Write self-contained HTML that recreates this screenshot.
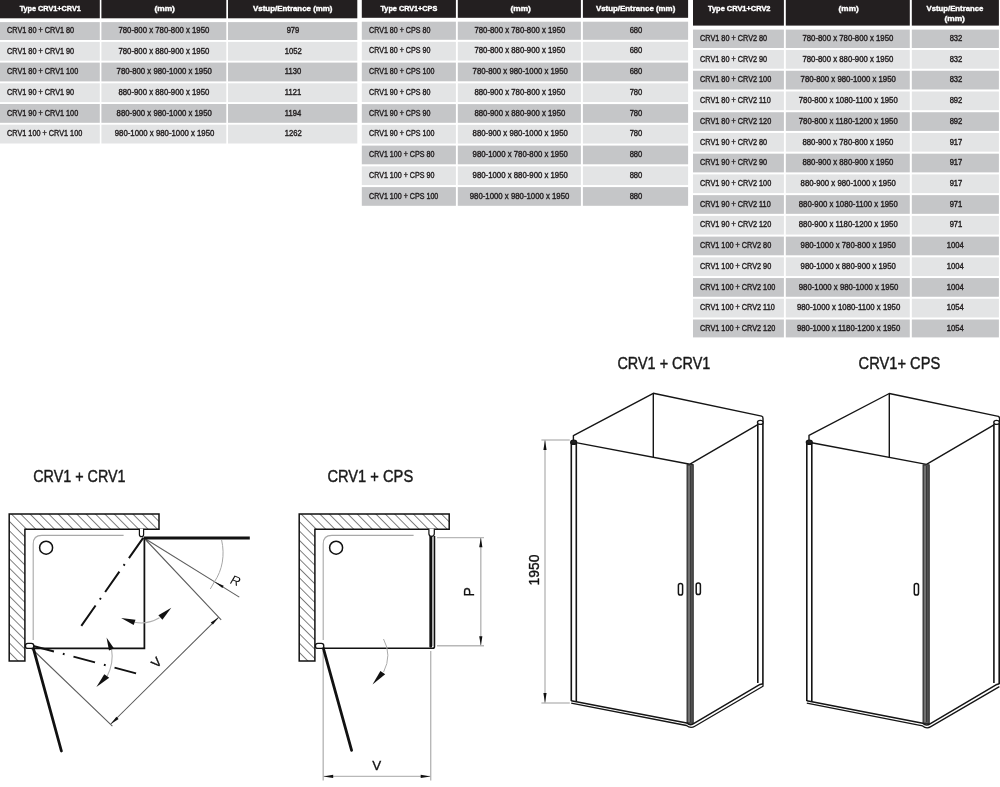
<!DOCTYPE html>
<html lang="en"><head><meta charset="utf-8"><title>CRV1 dimensions</title>
<style>
html,body{margin:0;padding:0;background:#fff}
body{width:1000px;height:787px;position:relative;overflow:hidden;font-family:"Liberation Sans",Arial,sans-serif;color:#231f20}
.c{position:absolute}
.t{position:absolute;white-space:nowrap;font-size:8.4px;line-height:10px;height:10px;display:block}
.t span{display:inline-block;transform-origin:0 50%}
.tc{text-align:center}
.tc span{transform-origin:50% 50%}
.h{color:#fff;font-weight:bold}
svg{position:absolute;left:0;top:0}
#tb{position:absolute;left:0;top:0;width:1000px;height:345px;will-change:transform}
.t{-webkit-text-stroke:0.4px}

</style></head><body><div id="tb">
<svg width="1000" height="345" viewBox="0 0 1000 345">
<rect x="0" y="0" width="99.8" height="18.3" fill="#231f20"/>
<rect x="101.4" y="0" width="124.9" height="18.3" fill="#231f20"/>
<rect x="228" y="0" width="129.3" height="18.3" fill="#231f20"/>
<rect x="0" y="22.1" width="99.8" height="17.9" fill="#c5c6c8"/>
<rect x="101.4" y="22.1" width="124.9" height="17.9" fill="#c5c6c8"/>
<rect x="228" y="22.1" width="129.3" height="17.9" fill="#c5c6c8"/>
<rect x="0" y="41.9" width="99.8" height="18.8" fill="#e3e4e5"/>
<rect x="101.4" y="41.9" width="124.9" height="18.8" fill="#e3e4e5"/>
<rect x="228" y="41.9" width="129.3" height="18.8" fill="#e3e4e5"/>
<rect x="0" y="62.6" width="99.8" height="18.8" fill="#c5c6c8"/>
<rect x="101.4" y="62.6" width="124.9" height="18.8" fill="#c5c6c8"/>
<rect x="228" y="62.6" width="129.3" height="18.8" fill="#c5c6c8"/>
<rect x="0" y="83.3" width="99.8" height="18.8" fill="#e3e4e5"/>
<rect x="101.4" y="83.3" width="124.9" height="18.8" fill="#e3e4e5"/>
<rect x="228" y="83.3" width="129.3" height="18.8" fill="#e3e4e5"/>
<rect x="0" y="104" width="99.8" height="18.8" fill="#c5c6c8"/>
<rect x="101.4" y="104" width="124.9" height="18.8" fill="#c5c6c8"/>
<rect x="228" y="104" width="129.3" height="18.8" fill="#c5c6c8"/>
<rect x="0" y="124.7" width="99.8" height="18.8" fill="#e3e4e5"/>
<rect x="101.4" y="124.7" width="124.9" height="18.8" fill="#e3e4e5"/>
<rect x="228" y="124.7" width="129.3" height="18.8" fill="#e3e4e5"/>
<rect x="361.8" y="0" width="94.1" height="17.8" fill="#231f20"/>
<rect x="457.8" y="0" width="123.1" height="17.8" fill="#231f20"/>
<rect x="582.9" y="0" width="105.2" height="17.8" fill="#231f20"/>
<rect x="361.8" y="21.7" width="94.1" height="18.1" fill="#c5c6c8"/>
<rect x="457.8" y="21.7" width="123.1" height="18.1" fill="#c5c6c8"/>
<rect x="582.9" y="21.7" width="105.2" height="18.1" fill="#c5c6c8"/>
<rect x="361.8" y="41.85" width="94.1" height="18.7" fill="#e3e4e5"/>
<rect x="457.8" y="41.85" width="123.1" height="18.7" fill="#e3e4e5"/>
<rect x="582.9" y="41.85" width="105.2" height="18.7" fill="#e3e4e5"/>
<rect x="361.8" y="62.6" width="94.1" height="18.7" fill="#c5c6c8"/>
<rect x="457.8" y="62.6" width="123.1" height="18.7" fill="#c5c6c8"/>
<rect x="582.9" y="62.6" width="105.2" height="18.7" fill="#c5c6c8"/>
<rect x="361.8" y="83.35" width="94.1" height="18.7" fill="#e3e4e5"/>
<rect x="457.8" y="83.35" width="123.1" height="18.7" fill="#e3e4e5"/>
<rect x="582.9" y="83.35" width="105.2" height="18.7" fill="#e3e4e5"/>
<rect x="361.8" y="104.1" width="94.1" height="18.7" fill="#c5c6c8"/>
<rect x="457.8" y="104.1" width="123.1" height="18.7" fill="#c5c6c8"/>
<rect x="582.9" y="104.1" width="105.2" height="18.7" fill="#c5c6c8"/>
<rect x="361.8" y="124.85" width="94.1" height="18.7" fill="#e3e4e5"/>
<rect x="457.8" y="124.85" width="123.1" height="18.7" fill="#e3e4e5"/>
<rect x="582.9" y="124.85" width="105.2" height="18.7" fill="#e3e4e5"/>
<rect x="361.8" y="145.6" width="94.1" height="18.7" fill="#c5c6c8"/>
<rect x="457.8" y="145.6" width="123.1" height="18.7" fill="#c5c6c8"/>
<rect x="582.9" y="145.6" width="105.2" height="18.7" fill="#c5c6c8"/>
<rect x="361.8" y="166.35" width="94.1" height="18.7" fill="#e3e4e5"/>
<rect x="457.8" y="166.35" width="123.1" height="18.7" fill="#e3e4e5"/>
<rect x="582.9" y="166.35" width="105.2" height="18.7" fill="#e3e4e5"/>
<rect x="361.8" y="187.1" width="94.1" height="18.7" fill="#c5c6c8"/>
<rect x="457.8" y="187.1" width="123.1" height="18.7" fill="#c5c6c8"/>
<rect x="582.9" y="187.1" width="105.2" height="18.7" fill="#c5c6c8"/>
<rect x="693" y="0" width="90.9" height="25.6" fill="#231f20"/>
<rect x="785.8" y="0" width="124" height="25.6" fill="#231f20"/>
<rect x="911.8" y="0" width="87.1" height="25.6" fill="#231f20"/>
<rect x="693" y="29.6" width="90.9" height="18.4" fill="#c5c6c8"/>
<rect x="785.8" y="29.6" width="124" height="18.4" fill="#c5c6c8"/>
<rect x="911.8" y="29.6" width="87.1" height="18.4" fill="#c5c6c8"/>
<rect x="693" y="50.03" width="90.9" height="18.7" fill="#e3e4e5"/>
<rect x="785.8" y="50.03" width="124" height="18.7" fill="#e3e4e5"/>
<rect x="911.8" y="50.03" width="87.1" height="18.7" fill="#e3e4e5"/>
<rect x="693" y="70.76" width="90.9" height="18.7" fill="#c5c6c8"/>
<rect x="785.8" y="70.76" width="124" height="18.7" fill="#c5c6c8"/>
<rect x="911.8" y="70.76" width="87.1" height="18.7" fill="#c5c6c8"/>
<rect x="693" y="91.49" width="90.9" height="18.7" fill="#e3e4e5"/>
<rect x="785.8" y="91.49" width="124" height="18.7" fill="#e3e4e5"/>
<rect x="911.8" y="91.49" width="87.1" height="18.7" fill="#e3e4e5"/>
<rect x="693" y="112.22" width="90.9" height="18.7" fill="#c5c6c8"/>
<rect x="785.8" y="112.22" width="124" height="18.7" fill="#c5c6c8"/>
<rect x="911.8" y="112.22" width="87.1" height="18.7" fill="#c5c6c8"/>
<rect x="693" y="132.95" width="90.9" height="18.7" fill="#e3e4e5"/>
<rect x="785.8" y="132.95" width="124" height="18.7" fill="#e3e4e5"/>
<rect x="911.8" y="132.95" width="87.1" height="18.7" fill="#e3e4e5"/>
<rect x="693" y="153.68" width="90.9" height="18.7" fill="#c5c6c8"/>
<rect x="785.8" y="153.68" width="124" height="18.7" fill="#c5c6c8"/>
<rect x="911.8" y="153.68" width="87.1" height="18.7" fill="#c5c6c8"/>
<rect x="693" y="174.41" width="90.9" height="18.7" fill="#e3e4e5"/>
<rect x="785.8" y="174.41" width="124" height="18.7" fill="#e3e4e5"/>
<rect x="911.8" y="174.41" width="87.1" height="18.7" fill="#e3e4e5"/>
<rect x="693" y="195.14" width="90.9" height="18.7" fill="#c5c6c8"/>
<rect x="785.8" y="195.14" width="124" height="18.7" fill="#c5c6c8"/>
<rect x="911.8" y="195.14" width="87.1" height="18.7" fill="#c5c6c8"/>
<rect x="693" y="215.87" width="90.9" height="18.7" fill="#e3e4e5"/>
<rect x="785.8" y="215.87" width="124" height="18.7" fill="#e3e4e5"/>
<rect x="911.8" y="215.87" width="87.1" height="18.7" fill="#e3e4e5"/>
<rect x="693" y="236.6" width="90.9" height="18.7" fill="#c5c6c8"/>
<rect x="785.8" y="236.6" width="124" height="18.7" fill="#c5c6c8"/>
<rect x="911.8" y="236.6" width="87.1" height="18.7" fill="#c5c6c8"/>
<rect x="693" y="257.33" width="90.9" height="18.7" fill="#e3e4e5"/>
<rect x="785.8" y="257.33" width="124" height="18.7" fill="#e3e4e5"/>
<rect x="911.8" y="257.33" width="87.1" height="18.7" fill="#e3e4e5"/>
<rect x="693" y="278.06" width="90.9" height="18.7" fill="#c5c6c8"/>
<rect x="785.8" y="278.06" width="124" height="18.7" fill="#c5c6c8"/>
<rect x="911.8" y="278.06" width="87.1" height="18.7" fill="#c5c6c8"/>
<rect x="693" y="298.79" width="90.9" height="18.7" fill="#e3e4e5"/>
<rect x="785.8" y="298.79" width="124" height="18.7" fill="#e3e4e5"/>
<rect x="911.8" y="298.79" width="87.1" height="18.7" fill="#e3e4e5"/>
<rect x="693" y="319.52" width="90.9" height="17.88" fill="#c5c6c8"/>
<rect x="785.8" y="319.52" width="124" height="17.88" fill="#c5c6c8"/>
<rect x="911.8" y="319.52" width="87.1" height="17.88" fill="#c5c6c8"/>
</svg>
<div class="t tc h" style="top:4.25px;font-size:7.9px;left:-50.1px;width:200px;"><span style="transform:scaleX(0.92)">Type CRV1+CRV1</span></div>
<div class="t tc h" style="top:4.25px;font-size:7.9px;left:64.85px;width:200px;"><span style="transform:scaleX(1.06)">(mm)</span></div>
<div class="t tc h" style="top:4.25px;font-size:7.9px;left:192.75px;width:200px;"><span style="transform:scaleX(1)">Vstup/Entrance (mm)</span></div>
<div class="t " style="top:24.9px;font-size:8.4px;left:6.8px;"><span style="transform:scaleX(0.87)">CRV1 80 + CRV1 80</span></div>
<div class="t tc " style="top:24.9px;font-size:8.4px;left:64.35px;width:200px;"><span style="transform:scaleX(0.93)">780-800 x 780-800 x 1950</span></div>
<div class="t tc " style="top:24.9px;font-size:8.4px;left:192.95px;width:200px;"><span style="transform:scaleX(0.91)">979</span></div>
<div class="t " style="top:45.6px;font-size:8.4px;left:6.8px;"><span style="transform:scaleX(0.87)">CRV1 80 + CRV1 90</span></div>
<div class="t tc " style="top:45.6px;font-size:8.4px;left:64.35px;width:200px;"><span style="transform:scaleX(0.93)">780-800 x 880-900 x 1950</span></div>
<div class="t tc " style="top:45.6px;font-size:8.4px;left:192.95px;width:200px;"><span style="transform:scaleX(0.91)">1052</span></div>
<div class="t " style="top:66.3px;font-size:8.4px;left:6.8px;"><span style="transform:scaleX(0.87)">CRV1 80 + CRV1 100</span></div>
<div class="t tc " style="top:66.3px;font-size:8.4px;left:64.35px;width:200px;"><span style="transform:scaleX(0.93)">780-800 x 980-1000 x 1950</span></div>
<div class="t tc " style="top:66.3px;font-size:8.4px;left:192.95px;width:200px;"><span style="transform:scaleX(0.91)">1130</span></div>
<div class="t " style="top:87px;font-size:8.4px;left:6.8px;"><span style="transform:scaleX(0.87)">CRV1 90 + CRV1 90</span></div>
<div class="t tc " style="top:87px;font-size:8.4px;left:64.35px;width:200px;"><span style="transform:scaleX(0.93)">880-900 x 880-900 x 1950</span></div>
<div class="t tc " style="top:87px;font-size:8.4px;left:192.95px;width:200px;"><span style="transform:scaleX(0.91)">1121</span></div>
<div class="t " style="top:107.7px;font-size:8.4px;left:6.8px;"><span style="transform:scaleX(0.87)">CRV1 90 + CRV1 100</span></div>
<div class="t tc " style="top:107.7px;font-size:8.4px;left:64.35px;width:200px;"><span style="transform:scaleX(0.93)">880-900 x 980-1000 x 1950</span></div>
<div class="t tc " style="top:107.7px;font-size:8.4px;left:192.95px;width:200px;"><span style="transform:scaleX(0.91)">1194</span></div>
<div class="t " style="top:128.4px;font-size:8.4px;left:6.8px;"><span style="transform:scaleX(0.87)">CRV1 100 + CRV1 100</span></div>
<div class="t tc " style="top:128.4px;font-size:8.4px;left:64.35px;width:200px;"><span style="transform:scaleX(0.93)">980-1000 x 980-1000 x 1950</span></div>
<div class="t tc " style="top:128.4px;font-size:8.4px;left:192.95px;width:200px;"><span style="transform:scaleX(0.91)">1262</span></div>
<div class="t tc h" style="top:4.2px;font-size:7.9px;left:308.95px;width:200px;"><span style="transform:scaleX(0.92)">Type CRV1+CPS</span></div>
<div class="t tc h" style="top:4.2px;font-size:7.9px;left:420.35px;width:200px;"><span style="transform:scaleX(1.06)">(mm)</span></div>
<div class="t tc h" style="top:4.2px;font-size:7.9px;left:535.6px;width:200px;"><span style="transform:scaleX(1)">Vstup/Entrance (mm)</span></div>
<div class="t " style="top:24.7px;font-size:8.4px;left:368.8px;"><span style="transform:scaleX(0.85)">CRV1 80 + CPS 80</span></div>
<div class="t tc " style="top:24.7px;font-size:8.4px;left:419.85px;width:200px;"><span style="transform:scaleX(0.93)">780-800 x 780-800 x 1950</span></div>
<div class="t tc " style="top:24.7px;font-size:8.4px;left:535.8px;width:200px;"><span style="transform:scaleX(0.91)">680</span></div>
<div class="t " style="top:45.45px;font-size:8.4px;left:368.8px;"><span style="transform:scaleX(0.85)">CRV1 80 + CPS 90</span></div>
<div class="t tc " style="top:45.45px;font-size:8.4px;left:419.85px;width:200px;"><span style="transform:scaleX(0.93)">780-800 x 880-900 x 1950</span></div>
<div class="t tc " style="top:45.45px;font-size:8.4px;left:535.8px;width:200px;"><span style="transform:scaleX(0.91)">680</span></div>
<div class="t " style="top:66.2px;font-size:8.4px;left:368.8px;"><span style="transform:scaleX(0.85)">CRV1 80 + CPS 100</span></div>
<div class="t tc " style="top:66.2px;font-size:8.4px;left:419.85px;width:200px;"><span style="transform:scaleX(0.93)">780-800 x 980-1000 x 1950</span></div>
<div class="t tc " style="top:66.2px;font-size:8.4px;left:535.8px;width:200px;"><span style="transform:scaleX(0.91)">680</span></div>
<div class="t " style="top:86.95px;font-size:8.4px;left:368.8px;"><span style="transform:scaleX(0.85)">CRV1 90 + CPS 80</span></div>
<div class="t tc " style="top:86.95px;font-size:8.4px;left:419.85px;width:200px;"><span style="transform:scaleX(0.93)">880-900 x 780-800 x 1950</span></div>
<div class="t tc " style="top:86.95px;font-size:8.4px;left:535.8px;width:200px;"><span style="transform:scaleX(0.91)">780</span></div>
<div class="t " style="top:107.7px;font-size:8.4px;left:368.8px;"><span style="transform:scaleX(0.85)">CRV1 90 + CPS 90</span></div>
<div class="t tc " style="top:107.7px;font-size:8.4px;left:419.85px;width:200px;"><span style="transform:scaleX(0.93)">880-900 x 880-900 x 1950</span></div>
<div class="t tc " style="top:107.7px;font-size:8.4px;left:535.8px;width:200px;"><span style="transform:scaleX(0.91)">780</span></div>
<div class="t " style="top:128.45px;font-size:8.4px;left:368.8px;"><span style="transform:scaleX(0.85)">CRV1 90 + CPS 100</span></div>
<div class="t tc " style="top:128.45px;font-size:8.4px;left:419.85px;width:200px;"><span style="transform:scaleX(0.93)">880-900 x 980-1000 x 1950</span></div>
<div class="t tc " style="top:128.45px;font-size:8.4px;left:535.8px;width:200px;"><span style="transform:scaleX(0.91)">780</span></div>
<div class="t " style="top:149.2px;font-size:8.4px;left:368.8px;"><span style="transform:scaleX(0.85)">CRV1 100 + CPS 80</span></div>
<div class="t tc " style="top:149.2px;font-size:8.4px;left:419.85px;width:200px;"><span style="transform:scaleX(0.93)">980-1000 x 780-800 x 1950</span></div>
<div class="t tc " style="top:149.2px;font-size:8.4px;left:535.8px;width:200px;"><span style="transform:scaleX(0.91)">880</span></div>
<div class="t " style="top:169.95px;font-size:8.4px;left:368.8px;"><span style="transform:scaleX(0.85)">CRV1 100 + CPS 90</span></div>
<div class="t tc " style="top:169.95px;font-size:8.4px;left:419.85px;width:200px;"><span style="transform:scaleX(0.93)">980-1000 x 880-900 x 1950</span></div>
<div class="t tc " style="top:169.95px;font-size:8.4px;left:535.8px;width:200px;"><span style="transform:scaleX(0.91)">880</span></div>
<div class="t " style="top:190.7px;font-size:8.4px;left:368.8px;"><span style="transform:scaleX(0.85)">CRV1 100 + CPS 100</span></div>
<div class="t tc " style="top:190.7px;font-size:8.4px;left:419.85px;width:200px;"><span style="transform:scaleX(0.93)">980-1000 x 980-1000 x 1950</span></div>
<div class="t tc " style="top:190.7px;font-size:8.4px;left:535.8px;width:200px;"><span style="transform:scaleX(0.91)">880</span></div>
<div class="t tc h" style="top:4.25px;font-size:7.9px;left:638.75px;width:200px;"><span style="transform:scaleX(0.94)">Type CRV1+CRV2</span></div>
<div class="t tc h" style="top:4.25px;font-size:7.9px;left:748.8px;width:200px;"><span style="transform:scaleX(1.04)">(mm)</span></div>
<div class="t tc h" style="top:3.7px;font-size:7.9px;left:855.45px;width:200px;"><span style="transform:scaleX(0.98)">Vstup/Entrance</span></div>
<div class="t tc h" style="top:13.9px;font-size:7.9px;left:855.05px;width:200px;"><span style="transform:scaleX(1.06)">(mm)</span></div>
<div class="t " style="top:32.9px;font-size:8.4px;left:699.6px;"><span style="transform:scaleX(0.87)">CRV1 80 + CRV2 80</span></div>
<div class="t tc " style="top:32.9px;font-size:8.4px;left:748.3px;width:200px;"><span style="transform:scaleX(0.93)">780-800 x 780-800 x 1950</span></div>
<div class="t tc " style="top:32.9px;font-size:8.4px;left:855.65px;width:200px;"><span style="transform:scaleX(0.91)">832</span></div>
<div class="t " style="top:53.63px;font-size:8.4px;left:699.6px;"><span style="transform:scaleX(0.87)">CRV1 80 + CRV2 90</span></div>
<div class="t tc " style="top:53.63px;font-size:8.4px;left:748.3px;width:200px;"><span style="transform:scaleX(0.93)">780-800 x 880-900 x 1950</span></div>
<div class="t tc " style="top:53.63px;font-size:8.4px;left:855.65px;width:200px;"><span style="transform:scaleX(0.91)">832</span></div>
<div class="t " style="top:74.36px;font-size:8.4px;left:699.6px;"><span style="transform:scaleX(0.87)">CRV1 80 + CRV2 100</span></div>
<div class="t tc " style="top:74.36px;font-size:8.4px;left:748.3px;width:200px;"><span style="transform:scaleX(0.93)">780-800 x 980-1000 x 1950</span></div>
<div class="t tc " style="top:74.36px;font-size:8.4px;left:855.65px;width:200px;"><span style="transform:scaleX(0.91)">832</span></div>
<div class="t " style="top:95.09px;font-size:8.4px;left:699.6px;"><span style="transform:scaleX(0.87)">CRV1 80 + CRV2 110</span></div>
<div class="t tc " style="top:95.09px;font-size:8.4px;left:748.3px;width:200px;"><span style="transform:scaleX(0.93)">780-800 x 1080-1100 x 1950</span></div>
<div class="t tc " style="top:95.09px;font-size:8.4px;left:855.65px;width:200px;"><span style="transform:scaleX(0.91)">892</span></div>
<div class="t " style="top:115.82px;font-size:8.4px;left:699.6px;"><span style="transform:scaleX(0.87)">CRV1 80 + CRV2 120</span></div>
<div class="t tc " style="top:115.82px;font-size:8.4px;left:748.3px;width:200px;"><span style="transform:scaleX(0.93)">780-800 x 1180-1200 x 1950</span></div>
<div class="t tc " style="top:115.82px;font-size:8.4px;left:855.65px;width:200px;"><span style="transform:scaleX(0.91)">892</span></div>
<div class="t " style="top:136.55px;font-size:8.4px;left:699.6px;"><span style="transform:scaleX(0.87)">CRV1 90 + CRV2 80</span></div>
<div class="t tc " style="top:136.55px;font-size:8.4px;left:748.3px;width:200px;"><span style="transform:scaleX(0.93)">880-900 x 780-800 x 1950</span></div>
<div class="t tc " style="top:136.55px;font-size:8.4px;left:855.65px;width:200px;"><span style="transform:scaleX(0.91)">917</span></div>
<div class="t " style="top:157.28px;font-size:8.4px;left:699.6px;"><span style="transform:scaleX(0.87)">CRV1 90 + CRV2 90</span></div>
<div class="t tc " style="top:157.28px;font-size:8.4px;left:748.3px;width:200px;"><span style="transform:scaleX(0.93)">880-900 x 880-900 x 1950</span></div>
<div class="t tc " style="top:157.28px;font-size:8.4px;left:855.65px;width:200px;"><span style="transform:scaleX(0.91)">917</span></div>
<div class="t " style="top:178.01px;font-size:8.4px;left:699.6px;"><span style="transform:scaleX(0.87)">CRV1 90 + CRV2 100</span></div>
<div class="t tc " style="top:178.01px;font-size:8.4px;left:748.3px;width:200px;"><span style="transform:scaleX(0.93)">880-900 x 980-1000 x 1950</span></div>
<div class="t tc " style="top:178.01px;font-size:8.4px;left:855.65px;width:200px;"><span style="transform:scaleX(0.91)">917</span></div>
<div class="t " style="top:198.74px;font-size:8.4px;left:699.6px;"><span style="transform:scaleX(0.87)">CRV1 90 + CRV2 110</span></div>
<div class="t tc " style="top:198.74px;font-size:8.4px;left:748.3px;width:200px;"><span style="transform:scaleX(0.93)">880-900 x 1080-1100 x 1950</span></div>
<div class="t tc " style="top:198.74px;font-size:8.4px;left:855.65px;width:200px;"><span style="transform:scaleX(0.91)">971</span></div>
<div class="t " style="top:219.47px;font-size:8.4px;left:699.6px;"><span style="transform:scaleX(0.87)">CRV1 90 + CRV2 120</span></div>
<div class="t tc " style="top:219.47px;font-size:8.4px;left:748.3px;width:200px;"><span style="transform:scaleX(0.93)">880-900 x 1180-1200 x 1950</span></div>
<div class="t tc " style="top:219.47px;font-size:8.4px;left:855.65px;width:200px;"><span style="transform:scaleX(0.91)">971</span></div>
<div class="t " style="top:240.2px;font-size:8.4px;left:699.6px;"><span style="transform:scaleX(0.87)">CRV1 100 + CRV2 80</span></div>
<div class="t tc " style="top:240.2px;font-size:8.4px;left:748.3px;width:200px;"><span style="transform:scaleX(0.93)">980-1000 x 780-800 x 1950</span></div>
<div class="t tc " style="top:240.2px;font-size:8.4px;left:855.65px;width:200px;"><span style="transform:scaleX(0.91)">1004</span></div>
<div class="t " style="top:260.93px;font-size:8.4px;left:699.6px;"><span style="transform:scaleX(0.87)">CRV1 100 + CRV2 90</span></div>
<div class="t tc " style="top:260.93px;font-size:8.4px;left:748.3px;width:200px;"><span style="transform:scaleX(0.93)">980-1000 x 880-900 x 1950</span></div>
<div class="t tc " style="top:260.93px;font-size:8.4px;left:855.65px;width:200px;"><span style="transform:scaleX(0.91)">1004</span></div>
<div class="t " style="top:281.66px;font-size:8.4px;left:699.6px;"><span style="transform:scaleX(0.87)">CRV1 100 + CRV2 100</span></div>
<div class="t tc " style="top:281.66px;font-size:8.4px;left:748.3px;width:200px;"><span style="transform:scaleX(0.93)">980-1000 x 980-1000 x 1950</span></div>
<div class="t tc " style="top:281.66px;font-size:8.4px;left:855.65px;width:200px;"><span style="transform:scaleX(0.91)">1004</span></div>
<div class="t " style="top:302.39px;font-size:8.4px;left:699.6px;"><span style="transform:scaleX(0.87)">CRV1 100 + CRV2 110</span></div>
<div class="t tc " style="top:302.39px;font-size:8.4px;left:748.3px;width:200px;"><span style="transform:scaleX(0.93)">980-1000 x 1080-1100 x 1950</span></div>
<div class="t tc " style="top:302.39px;font-size:8.4px;left:855.65px;width:200px;"><span style="transform:scaleX(0.91)">1054</span></div>
<div class="t " style="top:323.12px;font-size:8.4px;left:699.6px;"><span style="transform:scaleX(0.87)">CRV1 100 + CRV2 120</span></div>
<div class="t tc " style="top:323.12px;font-size:8.4px;left:748.3px;width:200px;"><span style="transform:scaleX(0.93)">980-1000 x 1180-1200 x 1950</span></div>
<div class="t tc " style="top:323.12px;font-size:8.4px;left:855.65px;width:200px;"><span style="transform:scaleX(0.91)">1054</span></div>
</div>
<svg width="1000" height="787" viewBox="0 0 1000 787" font-family="'Liberation Sans',Arial,sans-serif" fill="none" stroke-linecap="butt">
<defs>
<pattern id="hatch" width="6.61" height="6.61" patternUnits="userSpaceOnUse" patternTransform="translate(1.45 0) rotate(-45)">
<line x1="0" y1="-1" x2="0" y2="7.61" stroke="#222" stroke-width="1.15"/>
</pattern>
</defs>

<!-- ================= Plan 1 : CRV1 + CRV1 ================= -->
<g id="plan1">
<text x="33.2" y="482.3" font-size="17.4" fill="#1a1a1a" stroke="#1a1a1a" stroke-width="0.45" textLength="92.4" lengthAdjust="spacingAndGlyphs">CRV1 + CRV1</text>
<path d="M9.2 514H159V529.2H24.9V661H9.2Z" fill="url(#hatch)" stroke="#111" stroke-width="1.5"/>
<!-- tray inner rim -->
<path d="M33.2 640V544Q33.2 535.4 41.8 535.4H123.6" stroke="#a8a8a8" stroke-width="1.1"/>
<circle cx="46.1" cy="547.7" r="6.5" stroke="#111" stroke-width="1.5"/>
<!-- tray outer edges -->
<path d="M33 648.3H144.4V538" stroke="#111" stroke-width="1.75"/>
<!-- thin construction lines -->
<path d="M144 538L239.3 597.1M144 538L221.2 619.8M31 648L112.4 726.2" stroke="#5e5e5e" stroke-width="1.1"/>
<path d="M110.8 724L218.5 617.4" stroke="#555" stroke-width="1.05"/>
<!-- R arc -->
<path d="M221.6 540C225 555 222.5 570 214.4 581.8L210.3 589" stroke="#a6a6a6" stroke-width="1"/>
<!-- swing arcs -->
<path d="M134.5 622.3Q147 625 159.5 617.8" stroke="#b0b0b0" stroke-width="1.1"/>
<path d="M111.6 649.6Q114 663 107 676.4" stroke="#b0b0b0" stroke-width="1.1"/>
<!-- arrowheads -->
<g fill="#111" stroke="none">
<path d="M214.4 581.8L222.4 588.1L223.7 585.7Z"/>
<path d="M218.5 617.4L210.7 622.4L212.9 624.6Z"/>
<path d="M110.8 724L118.6 719L116.4 716.8Z"/>
<path d="M121.1 617.9L133.7 625.1L135.5 619.7Z"/>
<path d="M171.3 607.7L158.4 615.2L162.4 619.7Z"/>
<path d="M106.5 637.6L109 650.4L114 648.5Z"/>
<path d="M96.4 687.1L109.2 677.8L104.3 674.3Z"/>
</g>
<!-- doors -->
<path d="M143.6 538H249.8" stroke="#111" stroke-width="2.9"/>
<path d="M33.3 648.2L61.4 751" stroke="#111" stroke-width="2.8" stroke-linecap="round"/>
<path d="M143.2 537.8L81 626.3" stroke="#111" stroke-width="2" stroke-dasharray="24.8 7.4 1.8 7.4"/>
<path d="M32.4 645.7L136.6 673.5" stroke="#111" stroke-width="2" stroke-dasharray="22.3 9.2 1.8 9.2"/>
<!-- hinges -->
<path d="M139.4 528.8V534.4Q139.4 536.6 141.5 536.6Q143.6 536.6 143.6 534.4V528.8" fill="#fff" stroke="#111" stroke-width="1.2"/>
<rect x="25.4" y="643.4" width="8.4" height="5" rx="2.5" fill="#fff" stroke="#111" stroke-width="1.3"/>
<text transform="translate(233.8 584.8) rotate(20)" font-size="13" font-style="italic" fill="#111" text-anchor="middle">R</text>
<text transform="translate(159.6 665.6) rotate(-45)" font-size="13" fill="#111" stroke="#111" stroke-width="0.3" text-anchor="middle">V</text>
</g>

<!-- ================= Plan 2 : CRV1 + CPS ================= -->
<g id="plan2">
<text x="327.4" y="482.1" font-size="17.4" fill="#1a1a1a" stroke="#1a1a1a" stroke-width="0.45" textLength="85.8" lengthAdjust="spacingAndGlyphs">CRV1 + CPS</text>
<path d="M299.2 514H449.2V529.2H314.9V661H299.2Z" fill="url(#hatch)" stroke="#111" stroke-width="1.5"/>
<path d="M323.2 640V544Q323.2 535.4 331.8 535.4H413.6" stroke="#a8a8a8" stroke-width="1.1"/>
<circle cx="336.1" cy="547.7" r="6.5" stroke="#111" stroke-width="1.5"/>
<!-- tray bottom edge + thin right line of fixed panel -->
<path d="M323 648.3H432.6Q434.5 648.3 434.5 646.4V536" stroke="#111" stroke-width="1.5"/>
<!-- fixed panel -->
<path d="M433 537V646" stroke="#999" stroke-width="1.4"/>
<path d="M430.7 535V646.4" stroke="#111" stroke-width="2.7" stroke-linecap="round"/>
<path d="M428.9 528.8V533.6Q428.9 536.4 431.6 536.4Q434.3 536.4 434.3 533.6V528.8" fill="#fff" stroke="#111" stroke-width="1.2"/>
<!-- P + V dimensions -->
<path d="M437 537.6H484M437 645.8H484M480.8 538V645.5" stroke="#b8b8b8" stroke-width="1.4"/>
<path d="M323.2 651V780.5M430.7 651V780.5M323.2 776.4H430.7" stroke="#b8b8b8" stroke-width="1.4"/>
<g fill="#111" stroke="none">
<path d="M480.8 537.8L479.2 547.2H482.4Z"/>
<path d="M480.8 645.6L479.2 636.2H482.4Z"/>
<path d="M323.4 776.4L333.2 774.8V778Z"/>
<path d="M430.5 776.4L420.7 774.8V778Z"/>
<path d="M372.5 684.5L385.2 674.2L380.4 670.9Z"/>
</g>
<path d="M383.5 639Q392.2 655 383.6 672" stroke="#aaa" stroke-width="1"/>
<path d="M323.3 648.2L351.6 750.4" stroke="#111" stroke-width="2.8" stroke-linecap="round"/>
<rect x="315.4" y="643.4" width="8.4" height="5" rx="2.5" fill="#fff" stroke="#111" stroke-width="1.3"/>
<text transform="translate(473.8 591.9) rotate(-90)" font-size="14" fill="#111" stroke="#111" stroke-width="0.3" text-anchor="middle">P</text>
<text x="376.8" y="770.1" font-size="13.4" fill="#111" stroke="#111" stroke-width="0.3" text-anchor="middle">V</text>
</g>

<!-- ================= 3D 1 : CRV1 + CRV1 ================= -->
<g id="iso1" stroke="#151515" stroke-width="1.4" stroke-linejoin="round">
<text x="617.4" y="369" font-size="17.4" fill="#1a1a1a" stroke="#1a1a1a" stroke-width="0.45" textLength="93" lengthAdjust="spacingAndGlyphs">CRV1 + CRV1</text>
<!-- top frame -->
<path d="M573.4 440V435.6L653.3 393.3L761.6 416.1Q763 416.6 763 418.5V421"/>
<path d="M653.3 393.3V456.9"/>
<path d="M576 442.6L690 464.2L757.8 424.7"/>
<!-- posts -->
<path d="M571.3 442V701M576.3 443V701.6" stroke-width="1.6"/>
<path d="M757.8 424V683M762.9 421V684" stroke-width="1.6"/>
<rect x="687.1" y="464.6" width="6.1" height="258.6" fill="#585858" stroke="#2a2a2a" stroke-width="1.1"/>
<path d="M689 466V722" stroke="#909090" stroke-width="0.9"/>
<path d="M690.7 466V722" stroke="#2e2e2e" stroke-width="0.9"/>
<ellipse cx="573.7" cy="442.2" rx="2.9" ry="2.1" fill="#222"/>
<ellipse cx="760.3" cy="422.4" rx="2.8" ry="2" fill="#fff"/>
<!-- bottom rails -->
<path d="M571.2 700.7L686.8 722.9Q690.4 726.2 694 723.4L760 684.4L763 683.8" stroke-width="1.5"/>
<path d="M571.2 703.1L686.5 725.5Q690.6 728.9 694.8 726.2L763 686.2V684" stroke-width="1.3"/>
<!-- handles -->
<rect x="678.4" y="583.4" width="4.2" height="11.6" rx="2.1" stroke-width="1.5"/>
<rect x="696.2" y="582.9" width="4.2" height="11.6" rx="2.1" stroke-width="1.5"/>
<!-- 1950 dimension -->
<path d="M541.4 440.1H569.8M541.4 703H569.8M545 440.4V702.8" stroke="#bebebe" stroke-width="1.5"/>
<g fill="#111" stroke="none">
<path d="M545 440L543.4 450H546.6Z"/>
<path d="M545 703L543.4 693H546.6Z"/>
</g>
<text transform="translate(539.1 585.4) rotate(-90)" font-size="14.6" fill="#111" stroke="#111" stroke-width="0.35" textLength="30.8" lengthAdjust="spacingAndGlyphs">1950</text>
</g>

<!-- ================= 3D 2 : CRV1 + CPS ================= -->
<g id="iso2" stroke="#151515" stroke-width="1.4" stroke-linejoin="round">
<text x="858.6" y="369" font-size="17.4" fill="#1a1a1a" stroke="#1a1a1a" stroke-width="0.45" textLength="81.6" lengthAdjust="spacingAndGlyphs">CRV1+ CPS</text>
<path d="M809 440V435.4L889.3 393.5L998.4 416.4Q999.6 417 999.6 419V421"/>
<path d="M889.3 393.5V457.4"/>
<path d="M811.6 442.8L926.5 464.4L994 424.8"/>
<path d="M806.8 442V701M811.8 443V701.6" stroke-width="1.6"/>
<path d="M993.9 424V683M999.2 421V684" stroke-width="1.6"/>
<rect x="923.1" y="464.8" width="6.1" height="258.8" fill="#585858" stroke="#2a2a2a" stroke-width="1.1"/>
<path d="M925 466V722" stroke="#909090" stroke-width="0.9"/>
<path d="M926.7 466V722" stroke="#2e2e2e" stroke-width="0.9"/>
<ellipse cx="809.3" cy="442.2" rx="2.9" ry="2.1" fill="#222"/>
<ellipse cx="996.6" cy="422.4" rx="2.8" ry="2" fill="#fff"/>
<path d="M806.8 700.7L922.8 723.3Q926.4 726.6 930 723.8L996 684.8L999.4 683.8" stroke-width="1.5"/>
<path d="M806.8 703.1L922.6 725.9Q926.6 729.3 930.8 726.6L999.4 686.6" stroke-width="1.3"/>
<rect x="914.3" y="583.5" width="4.2" height="11.6" rx="2.1" stroke-width="1.5"/>
</g>
</svg>

</body></html>
